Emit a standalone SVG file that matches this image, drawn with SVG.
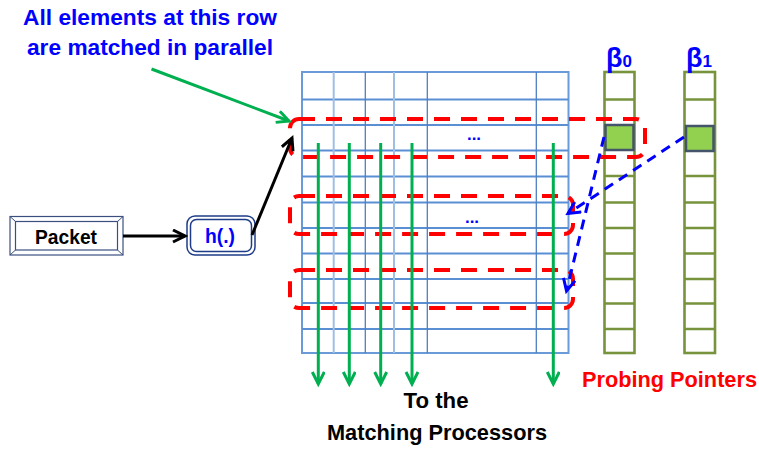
<svg xmlns="http://www.w3.org/2000/svg" width="759" height="449" viewBox="0 0 759 449">
  <style>
    .t { font-family: "Liberation Sans", Arial, sans-serif; font-weight: bold; }
    .blue { fill: #0000ff; }
    .red { fill: #ff0000; }
    .black { fill: #000000; }
    .row { stroke: #5b8fd3; stroke-width: 2.2; }
    .col { stroke: #4f7fc0; stroke-width: 1.3; }
    .colL { stroke: #a0bde3; stroke-width: 2; }
    .sel { fill: none; stroke: #ff0000; stroke-width: 4; stroke-dasharray: 16 11; }
    .ptr { fill: none; stroke: #77933c; stroke-width: 2.6; }
    .ptrrow { stroke: #77933c; stroke-width: 2.6; }
    .cell { fill: #92d050; stroke: #44546a; stroke-width: 2.5; }
    .out { stroke: #00b050; stroke-width: 3; fill: none; }
    .probe { stroke: #0000ff; stroke-width: 3; stroke-dasharray: 10 7; fill: none; }
  </style>
  <defs>
    <marker id="headGreen" markerUnits="userSpaceOnUse" markerWidth="16" markerHeight="16" refX="13" refY="7" orient="auto">
      <path d="M1,1 L13,7 L1,13" fill="none" stroke="#00b050" stroke-width="3"/>
    </marker>
    <marker id="headBlack" markerUnits="userSpaceOnUse" markerWidth="16" markerHeight="16" refX="13" refY="7" orient="auto">
      <path d="M1,1 L13,7 L1,13" fill="none" stroke="#000000" stroke-width="3"/>
    </marker>
    <marker id="headBlue" markerUnits="userSpaceOnUse" markerWidth="16" markerHeight="16" refX="13" refY="7" orient="auto">
      <path d="M1,1 L13,7 L1,13" fill="none" stroke="#0000ff" stroke-width="3"/>
    </marker>
  </defs>

  <!-- caption -->
  <g id="caption">
    <text class="t blue" x="23" y="25" font-size="22.5" textLength="254" lengthAdjust="spacingAndGlyphs">All elements at this row</text>
    <text class="t blue" x="27" y="55" font-size="22.5" textLength="246" lengthAdjust="spacingAndGlyphs">are matched in parallel</text>
  </g>

  <!-- packet input -->
  <g id="packet">
    <rect x="10" y="216.5" width="113" height="38.5" fill="#ffffff" stroke="#3a4f80" stroke-width="1.2"/>
    <rect x="15.5" y="221.5" width="102" height="28.5" fill="none" stroke="#3a4f80" stroke-width="1.2"/>
    <path d="M10,216.5 L15.5,221.5 M123,216.5 L117.5,221.5 M10,255 L15.5,250 M123,255 L117.5,250" stroke="#3a4f80" stroke-width="1"/>
    <text class="t black" x="35" y="243.5" font-size="19.5" textLength="62" lengthAdjust="spacingAndGlyphs">Packet</text>
  </g>

  <!-- hash function -->
  <g id="hash">
    <rect x="187" y="216" width="68" height="39" rx="8" fill="#ffffff" stroke="#1f3c88" stroke-width="1.5"/>
    <rect x="190.5" y="219.5" width="61" height="32" rx="6" fill="none" stroke="#1f3c88" stroke-width="1.5"/>
    <text class="t blue" x="205" y="243" font-size="21" textLength="30" lengthAdjust="spacingAndGlyphs">h(.)</text>
  </g>

  <!-- hash table grid -->
  <g id="table">
    <rect x="302" y="72" width="266.5" height="281" fill="#ffffff" stroke="#6a9ad8" stroke-width="2"/>
    <g>
      <line class="row" x1="302" y1="99.5" x2="568.5" y2="99.5"/>
      <line class="row" x1="302" y1="125" x2="568.5" y2="125"/>
      <line class="row" x1="302" y1="150.5" x2="568.5" y2="150.5"/>
      <line class="row" x1="302" y1="176.5" x2="568.5" y2="176.5" stroke-width="3"/>
      <line class="row" x1="302" y1="202.5" x2="568.5" y2="202.5"/>
      <line class="row" x1="302" y1="228" x2="568.5" y2="228"/>
      <line class="row" x1="302" y1="253.5" x2="568.5" y2="253.5"/>
      <line class="row" x1="302" y1="279" x2="568.5" y2="279"/>
      <line class="row" x1="302" y1="303" x2="568.5" y2="303"/>
      <line class="row" x1="302" y1="329" x2="568.5" y2="329"/>
    </g>
    <g>
      <line class="colL" x1="333.7" y1="72" x2="333.7" y2="353"/>
      <line class="col" x1="365.3" y1="72" x2="365.3" y2="353"/>
      <line class="colL" x1="394" y1="72" x2="394" y2="353"/>
      <line class="col" x1="427.3" y1="72" x2="427.3" y2="353"/>
      <line class="col" x1="536.3" y1="72" x2="536.3" y2="353"/>
    </g>
    <text class="t blue" x="474" y="140" font-size="17" text-anchor="middle">...</text>
    <text class="t blue" x="472" y="223" font-size="17" text-anchor="middle">...</text>
  </g>

  <!-- probing pointer arrays -->
  <g id="beta0">
    <rect class="ptr" x="604.5" y="72" width="30" height="281"/>
    <path class="ptrrow" d="M604.5,99.5 H634.5 M604.5,176 H634.5 M604.5,202.5 H634.5 M604.5,228 H634.5 M604.5,253.5 H634.5 M604.5,279 H634.5 M604.5,303.5 H634.5 M604.5,329 H634.5"/>
    <rect class="cell" x="605.5" y="125" width="28" height="25"/>
    <text class="t blue" x="606" y="67" font-size="27">β<tspan font-size="17">0</tspan></text>
  </g>
  <g id="beta1">
    <rect class="ptr" x="684.5" y="72" width="30.5" height="281"/>
    <path class="ptrrow" d="M684.5,99.5 H715 M684.5,176 H715 M684.5,202.5 H715 M684.5,228 H715 M684.5,253.5 H715 M684.5,279 H715 M684.5,303.5 H715 M684.5,329 H715"/>
    <rect class="cell" x="686" y="126" width="27.5" height="25"/>
    <text class="t blue" x="686" y="67" font-size="27">β<tspan font-size="17">1</tspan></text>
  </g>

  <!-- selected rows -->
  <g id="selections">
    <rect class="sel" x="290" y="119" width="355" height="38" rx="9"/>
    <rect class="sel" x="290" y="196" width="283" height="38" rx="9"/>
    <rect class="sel" x="290" y="270" width="283" height="38" rx="9"/>
  </g>

  <!-- connectors -->
  <g id="connectors">
    <line x1="151.5" y1="69" x2="289" y2="121" stroke="#00b050" stroke-width="3" marker-end="url(#headGreen)"/>
    <line x1="123" y1="236" x2="185" y2="236" stroke="#000000" stroke-width="3" marker-end="url(#headBlack)"/>
    <line x1="252" y1="235" x2="292" y2="138" stroke="#000000" stroke-width="3" marker-end="url(#headBlack)"/>
    <line class="out" x1="318.3" y1="143" x2="318.3" y2="384" marker-end="url(#headGreen)"/>
    <line class="out" x1="349.3" y1="143" x2="349.3" y2="384" marker-end="url(#headGreen)"/>
    <line class="out" x1="380.7" y1="143" x2="380.7" y2="384" marker-end="url(#headGreen)"/>
    <line class="out" x1="412" y1="143" x2="412" y2="384" marker-end="url(#headGreen)"/>
    <line class="out" x1="553.3" y1="143" x2="553.3" y2="384" marker-end="url(#headGreen)"/>
    <line class="probe" x1="604" y1="137" x2="566.5" y2="291" marker-end="url(#headBlue)"/>
    <line class="probe" x1="684" y1="137" x2="568" y2="213.5" marker-end="url(#headBlue)"/>
  </g>

  <!-- labels -->
  <g id="labels">
    <text class="t red" x="582" y="387" font-size="21.5" textLength="175" lengthAdjust="spacingAndGlyphs">Probing Pointers</text>
    <text class="t black" x="403.5" y="408" font-size="22.5" textLength="65" lengthAdjust="spacingAndGlyphs">To the</text>
    <text class="t black" x="327" y="440" font-size="22.5" textLength="220" lengthAdjust="spacingAndGlyphs">Matching Processors</text>
  </g>
</svg>
